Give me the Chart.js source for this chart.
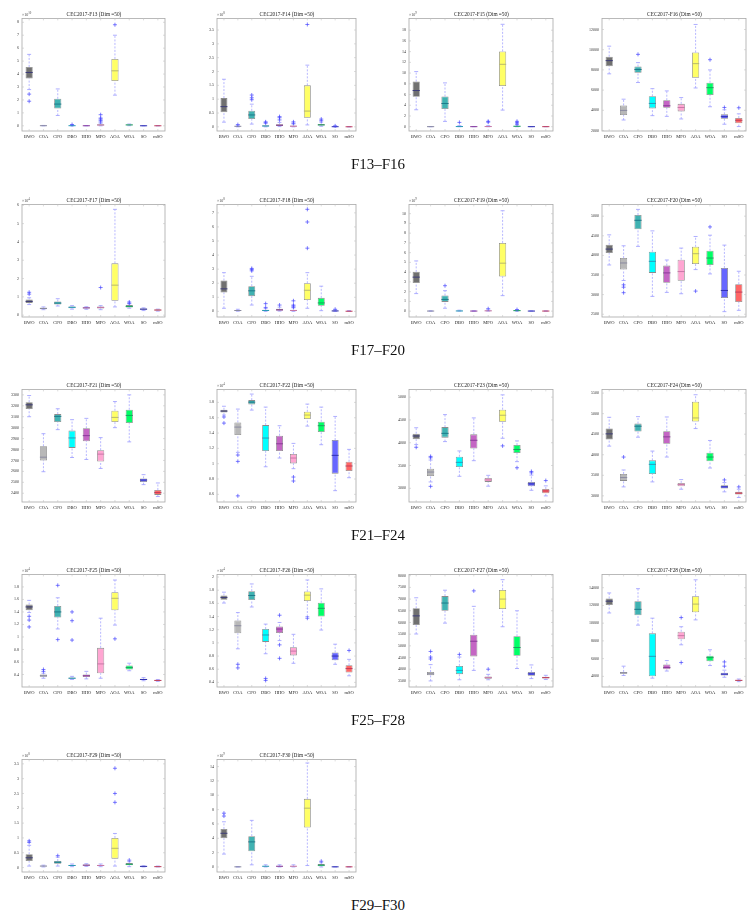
<!DOCTYPE html>
<html>
<head>
<meta charset="utf-8">
<script src="https://cdn.jsdelivr.net/npm/chart.js@4.4.1/dist/chart.umd.min.js"></script>
<style>
  body { margin: 0; background: #fff; width: 755px; height: 917px; position: relative; overflow: hidden; font-family: 'Liberation Serif', serif; }
  canvas { position: absolute; }
  .ttl { position: absolute; font-size: 5.3px; line-height: 6px; color: #222; white-space: nowrap; transform: translateX(-50%); }
  .exp { position: absolute; font-size: 4px; line-height: 5px; color: #444; white-space: nowrap; }
  .exp sup { font-size: 3px; }
  .cap { position: absolute; font-size: 15px; transform: translate(-50%, -50%); white-space: nowrap; color: #111; }
</style>
</head>
<body>
<script>
// algorithms on the x axis
const algorithms = ['BWO', 'COA', 'CPO', 'DBO', 'HHO', 'MFO', 'AOA', 'WOA', 'SO', 'mSO'];

// box stats per algorithm: [lower whisker, q1, median, q3, upper whisker]; outliers separately
const f13Box = [[2.8,3.65,4.12,4.55,5.52],[0,0.005,0.01,0.02,0.03],[0.8,1.33,1.68,2.09,2.85],[0,0.005,0.01,0.03,0.06],[0,0.003,0.005,0.01,0.02],[0,0.03,0.06,0.12,0.2],[2.37,3.46,4.25,5.17,7.0],[0.01,0.05,0.07,0.1,0.14],[0,0.002,0.004,0.008,0.015],[0,0.002,0.004,0.008,0.015]];
const f13Out = [[2.45,1.9],[],[],[0.1],[],[0.3,0.42,0.52,0.6,0.86],[7.81],[],[],[]];
const f13Ticks = [0,1,2,3,4,5,6,7,8];

const f14Box = [[0.17,0.53,0.73,1.04,1.72],[0,0.01,0.02,0.03,0.06],[0.1,0.28,0.43,0.58,0.82],[0,0.01,0.03,0.06,0.12],[0.01,0.03,0.06,0.09,0.16],[0,0.01,0.02,0.05,0.1],[0.07,0.33,0.57,1.5,2.23],[0.02,0.05,0.07,0.1,0.17],[0,0.003,0.005,0.01,0.02],[0,0.002,0.003,0.005,0.008]];
const f14Out = [[],[0.08],[0.98,1.05,1.15],[0.15,0.18],[0.25,0.33,0.37],[0.13,0.18],[3.7],[0.22,0.28],[0.035],[]];
const f14Ticks = [0,0.5,1,1.5,2,2.5,3,3.5];

const f15Box = [[3.16,5.57,6.75,8.42,10.28],[0,0.005,0.01,0.02,0.03],[0.99,3.28,4.33,5.63,8.17],[0,0.01,0.03,0.08,0.2],[0,0.005,0.01,0.02,0.04],[0,0.01,0.03,0.08,0.2],[3.1,7.6,11.64,14.05,19.1],[0,0.03,0.08,0.2,0.35],[0,0.005,0.01,0.02,0.03],[0,0.005,0.01,0.02,0.03]];
const f15Out = [[],[],[],[0.8],[],[0.85,1.0],[],[0.5,0.75,1.0],[],[]];
const f15Ticks = [0,2,4,6,8,10,12,14,16,18];

const f16Box = [[7610,8360,8920,9310,10350],[3040,3530,3990,4480,5100],[6750,7710,8040,8330,8720],[3470,4190,4680,5390,6140],[3400,4250,4450,5000,5920],[3140,3890,4280,4640,5260],[6210,7220,8620,9730,12500],[4350,5520,6240,6730,8000],[2620,3170,3370,3600,4050],[2390,2720,3010,3240,3650]];
const f16Out = [[],[],[9540],[],[],[],[],[9010],[4280],[4250]];
const f16Ticks = [2000,4000,6000,8000,10000,12000];

const f17Box = [[0.58,0.67,0.75,0.86,0.95],[0.3,0.33,0.37,0.41,0.45],[0.5,0.58,0.66,0.75,0.9],[0.33,0.38,0.43,0.48,0.52],[0.32,0.36,0.4,0.42,0.46],[0.3,0.37,0.42,0.47,0.52],[0.45,0.79,1.64,2.83,5.78],[0.38,0.42,0.48,0.55,0.62],[0.25,0.3,0.33,0.36,0.4],[0.22,0.26,0.28,0.31,0.33]];
const f17Out = [[1.15,1.25],[],[],[],[],[1.51],[],[0.65,0.72],[],[]];
const f17Ticks = [0,1,2,3,4,5,6];

const f18Box = [[0.22,1.34,1.6,2.19,2.75],[0.01,0.03,0.06,0.1,0.15],[0.45,1.08,1.46,1.79,2.49],[0,0.03,0.06,0.12,0.2],[0.02,0.06,0.1,0.18,0.3],[0,0.03,0.06,0.12,0.25],[0.22,0.8,1.5,2.0,2.75],[0.05,0.4,0.6,0.96,1.79],[0,0.01,0.03,0.06,0.1],[0,0.005,0.01,0.02,0.06]];
const f18Out = [[],[],[2.88,2.97,3.05],[0.28,0.55],[0.45],[0.3,0.38,0.45,0.75],[4.49,6.35,7.25],[],[0.15],[]];
const f18Ticks = [0,1,2,3,4,5,6,7];

const f19Box = [[1.8,2.88,3.49,4.03,5.15],[0,0.005,0.01,0.02,0.03],[0.3,0.95,1.2,1.6,2.1],[0,0.01,0.02,0.04,0.1],[0,0.005,0.01,0.02,0.03],[0,0.01,0.03,0.06,0.12],[1.59,3.56,4.92,7.0,10.3],[0,0.02,0.05,0.08,0.12],[0,0.005,0.01,0.02,0.03],[0,0.005,0.01,0.02,0.03]];
const f19Out = [[],[],[2.61],[],[],[0.25],[],[0.16],[],[]];
const f19Ticks = [0,1,2,3,4,5,6,7,8,9,10];

const f20Box = [[3756,4060,4161,4271,4524],[3360,3638,3807,3933,4245],[4230,4667,4895,5030,5173],[2955,3554,3849,4094,4625],[3057,3301,3554,3740,3883],[3023,3352,3588,3891,4186],[3638,3782,4043,4220,4482],[3528,3756,3933,4119,4515],[2567,2913,3107,3680,4262],[2600,2812,3065,3267,3596]];
const f20Out = [[],[3250,3190,3050],[],[],[],[],[3090],[4726],[],[]];
const f20Ticks = [2500,3000,3500,4000,4500,5000];

const f21Box = [[3100,3170,3209,3233,3294],[2597,2700,2730,2830,2945],[2982,3052,3103,3124,3173],[2727,2815,2906,2973,3073],[2709,2876,2927,2994,3085],[2627,2691,2758,2794,2909],[3000,3052,3094,3155,3239],[2870,3042,3112,3164,3300],[2479,2503,2521,2536,2570],[2370,2385,2406,2430,2494]];
const f21Out = [[],[],[],[],[],[],[],[],[],[]];
const f21Ticks = [2400,2500,2600,2700,2800,2900,3000,3100,3200,3300];

const f22Box = [[1.635,1.67,1.687,1.704,1.75],[1.148,1.374,1.478,1.539,1.713],[1.7,1.774,1.804,1.83,1.909],[0.96,1.165,1.335,1.504,1.739],[1.074,1.165,1.26,1.365,1.496],[0.935,1.004,1.074,1.126,1.265],[1.491,1.583,1.635,1.678,1.778],[1.248,1.413,1.496,1.548,1.739],[0.648,0.87,1.109,1.309,1.617],[0.817,0.904,0.97,1.026,1.187]];
const f22Out = [[1.61,1.53],[1.113,1.03,0.58],[],[],[],[0.826,0.774],[],[],[],[]];
const f22Ticks = [0.6,0.8,1,1.2,1.4,1.6,1.8];

const f23Box = [[3960,4076,4148,4199,4329],[3140,3270,3357,3430,3620],[4025,4112,4206,4343,4617],[3264,3466,3570,3693,3820],[3606,3874,4054,4184,4545],[3047,3141,3184,3227,3285],[4098,4458,4603,4726,5050],[3585,3776,3852,3949,4040],[2957,3047,3097,3141,3290],[2834,2892,2942,2986,3054]];
const f23Out = [[3900],[3670,3700,3043],[],[],[],[],[3931],[3451],[3340,3370],[3170]];
const f23Ticks = [3000,3500,4000,4500,5000];

const f24Box = [[4210,4371,4508,4637,4911],[3218,3363,3444,3532,3629],[4427,4565,4694,4758,4927],[3339,3532,3766,3863,4089],[3944,4266,4435,4573,4919],[3161,3234,3274,3315,3395],[4637,4806,4895,5290,5460],[3677,3839,3944,4048,4347],[3097,3177,3218,3258,3323],[2960,3032,3065,3097,3161]];
const f24Out = [[],[3944],[],[],[],[],[],[],[3387],[3218]];
const f24Ticks = [3000,3500,4000,4500,5000,5500];

const f25Box = [[1.39,1.428,1.48,1.517,1.585],[0.34,0.365,0.38,0.4,0.42],[1.128,1.312,1.4,1.496,1.626],[0.32,0.33,0.34,0.35,0.37],[0.33,0.36,0.38,0.4,0.45],[0.34,0.42,0.569,0.826,1.3],[1.19,1.428,1.618,1.716,1.91],[0.46,0.48,0.51,0.543,0.58],[0.3,0.31,0.32,0.33,0.35],[0.29,0.3,0.305,0.31,0.32]];
const f25Out = [[1.33,1.27,1.16],[0.45,0.48],[1.825,0.958],[1.4,1.26,0.95],[],[],[0.97],[],[],[]];
const f25Ticks = [0.4,0.6,0.8,1,1.2,1.4,1.6,1.8];

const f26Box = [[1.605,1.655,1.69,1.72,1.77],[0.91,1.145,1.26,1.34,1.46],[1.545,1.65,1.72,1.785,1.895],[0.835,1.015,1.12,1.21,1.285],[1.035,1.15,1.21,1.25,1.31],[0.69,0.81,0.875,0.935,1.13],[1.4,1.635,1.725,1.78,1.955],[1.195,1.4,1.525,1.61,1.82],[0.675,0.735,0.8,0.855,0.98],[0.5,0.55,0.61,0.66,0.75]];
const f26Out = [[],[0.675,0.62],[],[0.46,0.43],[1.42,0.97,0.765],[],[1.375],[],[],[0.885]];
const f26Ticks = [0.4,0.6,0.8,1,1.2,1.4,1.6,1.8,2];

const f27Box = [[5507,5887,6282,6606,7056],[3500,3740,3800,3880,4197],[5972,6500,6831,7127,7380],[3550,3790,3950,4141,4521],[3950,4549,5197,5479,6690],[3550,3590,3640,3690,3780],[5817,6577,7000,7394,7831],[4030,4577,4930,5408,6500],[3600,3720,3800,3880,4183],[3560,3600,3640,3680,3740]];
const f27Out = [[],[4760,4521,4437],[],[4634],[7352],[4000],[],[],[],[]];
const f27Ticks = [3500,4000,4500,5000,5500,6000,6500,7000,7500,8000];

const f28Box = [[11150,12040,12480,12780,13410],[4100,4300,4400,4500,5150],[9780,10890,11560,12480,13890],[3800,4000,6260,8850,10560],[4600,4800,5000,5330,5780],[7560,8190,8590,9040,9600],[10370,11220,12150,13040,14890],[5220,5700,6110,6330,7000],[3900,4100,4250,4400,4700],[3400,3500,3550,3600,3700]];
const f28Out = [[],[],[],[],[],[10630,5560],[],[],[5630,5150],[]];
const f28Ticks = [4000,6000,8000,10000,12000,14000];

const f29Box = [[0.05,0.22,0.33,0.45,0.75],[0.02,0.04,0.05,0.06,0.08],[0.05,0.13,0.18,0.22,0.35],[0.03,0.05,0.07,0.09,0.12],[0.04,0.06,0.08,0.1,0.13],[0.03,0.05,0.07,0.09,0.12],[0.05,0.3,0.65,1.0,1.15],[0.03,0.08,0.11,0.15,0.2],[0.02,0.03,0.04,0.05,0.06],[0.02,0.025,0.03,0.04,0.05]];
const f29Out = [[0.85,0.9],[],[0.4],[],[],[],[2.2,2.5,3.35],[0.25],[],[]];
const f29Ticks = [0,0.5,1,1.5,2,2.5,3,3.5];

const f30Box = [[1.8,4.0,4.7,5.3,6.3],[0,0.01,0.02,0.03,0.05],[0.3,2.2,3.5,4.3,6.5],[0,0.05,0.1,0.15,0.3],[0,0.05,0.1,0.15,0.3],[0,0.05,0.1,0.15,0.3],[0.2,5.5,8.2,9.5,14.5],[0,0.1,0.25,0.4,0.6],[0,0.01,0.02,0.03,0.05],[0,0.01,0.02,0.03,0.05]];
const f30Out = [[7.1,7.5],[],[],[],[],[],[],[0.8],[],[]];
const f30Ticks = [0,2,4,6,8,10,12,14];

const captions = ['F13–F16', 'F17–F20', 'F21–F24', 'F25–F28', 'F29–F30'];

const panels = [
  { fn: 'F13', box: f13Box, out: f13Out, ticks: f13Ticks, min: -0.4, max: 8.3, exp: '10' },
  { fn: 'F14', box: f14Box, out: f14Out, ticks: f14Ticks, min: -0.15, max: 3.92, exp: '8' },
  { fn: 'F15', box: f15Box, out: f15Out, ticks: f15Ticks, min: -0.8, max: 20.2, exp: '9' },
  { fn: 'F16', box: f16Box, out: f16Out, ticks: f16Ticks, min: 1950, max: 13100, exp: null },
  { fn: 'F17', box: f17Box, out: f17Out, ticks: f17Ticks, min: -0.1, max: 6.05, exp: '4' },
  { fn: 'F18', box: f18Box, out: f18Out, ticks: f18Ticks, min: -0.4, max: 7.6, exp: '8' },
  { fn: 'F19', box: f19Box, out: f19Out, ticks: f19Ticks, min: -0.6, max: 10.95, exp: '9' },
  { fn: 'F20', box: f20Box, out: f20Out, ticks: f20Ticks, min: 2430, max: 5300, exp: null },
  { fn: 'F21', box: f21Box, out: f21Out, ticks: f21Ticks, min: 2320, max: 3350, exp: null },
  { fn: 'F22', box: f22Box, out: f22Out, ticks: f22Ticks, min: 0.5, max: 1.97, exp: '4' },
  { fn: 'F23', box: f23Box, out: f23Out, ticks: f23Ticks, min: 2700, max: 5170, exp: null },
  { fn: 'F24', box: f24Box, out: f24Out, ticks: f24Ticks, min: 2850, max: 5590, exp: null },
  { fn: 'F25', box: f25Box, out: f25Out, ticks: f25Ticks, min: 0.2, max: 2.0, exp: '4' },
  { fn: 'F26', box: f26Box, out: f26Out, ticks: f26Ticks, min: 0.33, max: 2.04, exp: '4' },
  { fn: 'F27', box: f27Box, out: f27Out, ticks: f27Ticks, min: 3240, max: 8056, exp: null },
  { fn: 'F28', box: f28Box, out: f28Out, ticks: f28Ticks, min: 2800, max: 15500, exp: null },
  { fn: 'F29', box: f29Box, out: f29Out, ticks: f29Ticks, min: -0.15, max: 3.65, exp: '8' },
  { fn: 'F30', box: f30Box, out: f30Out, ticks: f30Ticks, min: -0.7, max: 15, exp: '9' }
];

const fills = ['#707070', '#b8b8b8', '#40b2b2', '#00ffff', '#c466c4', '#ffa6d2', '#ffff66', '#00ff66', '#6666ff', '#ff6666'];
const medColors = ['#3c3c78', '#8a8aa0', '#1c7a8a', '#2a9ab8', '#8a3a9a', '#c878a8', '#b8b870', '#1aa060', '#3030b0', '#c03c5a'];
const whiskerColor = '#9a9aff';
const serif = 'Liberation Serif';

const cols = [[22, 166], [217, 357], [409, 554], [602, 747]];
const rowTops = [17, 203, 388, 573, 758];
const plotH = 114;

// frame round the plot area with little inward ticks, like the original figure
const frame = {
  id: 'frame',
  afterDraw(chart) {
    const { ctx, chartArea: a, scales } = chart;
    ctx.save();
    ctx.strokeStyle = '#a8a8a8';
    ctx.lineWidth = 0.8;
    ctx.strokeRect(a.left, a.top, a.right - a.left, a.bottom - a.top);
    ctx.strokeStyle = '#c4c4c4';
    ctx.lineWidth = 0.6;
    ctx.beginPath();
    scales.y.ticks.forEach(t => {
      const y = scales.y.getPixelForValue(t.value);
      ctx.moveTo(a.left, y); ctx.lineTo(a.left + 2, y);
      ctx.moveTo(a.right, y); ctx.lineTo(a.right - 2, y);
    });
    algorithms.forEach((_, i) => {
      const x = scales.x.getPixelForValue(i);
      ctx.moveTo(x, a.bottom); ctx.lineTo(x, a.bottom - 2);
      ctx.moveTo(x, a.top); ctx.lineTo(x, a.top + 2);
    });
    ctx.stroke();
    ctx.restore();
  }
};

function halfBox(ctx) {
  const a = ctx.chart.chartArea;
  return a ? (a.right - a.left) / algorithms.length * 0.25 : 3;
}

function addText(cls, html, left, top) {
  const d = document.createElement('div');
  d.className = cls;
  d.innerHTML = html;
  d.style.left = left + 'px';
  d.style.top = top + 'px';
  document.body.appendChild(d);
}

panels.forEach((p, k) => {
  const row = Math.floor(k / 4), col = k % 4;
  const [x0, x1] = cols[col];
  const top = rowTops[row];

  const cv = document.createElement('canvas');
  cv.width = (x1 - x0) + 26;
  cv.height = plotH + 4 + 10;
  cv.style.left = (x0 - 22) + 'px';
  cv.style.top = (top - 4) + 'px';
  document.body.appendChild(cv);

  const whiskers = [], medians = [], outliers = [];
  p.box.forEach((b, i) => {
    const a = algorithms[i];
    whiskers.push({ x: a, y: b[0] }, { x: a, y: b[1] }, { x: a, y: null },
                  { x: a, y: b[3] }, { x: a, y: b[4] }, { x: a, y: null });
    medians.push({ x: a, y: b[2] });
    p.out[i].forEach(v => outliers.push({ x: a, y: v }));
  });

  new Chart(cv, {
    type: 'bar',
    data: {
      labels: algorithms,
      datasets: [
        {
          type: 'line', data: whiskers, order: 3,
          borderColor: whiskerColor, borderWidth: 0.7, borderDash: [2, 1.5], spanGaps: false,
          pointStyle: 'line', pointBorderColor: whiskerColor, pointBorderWidth: 0.8,
          pointRadius: ctx => (ctx.dataIndex % 6 === 0 || ctx.dataIndex % 6 === 4) ? halfBox(ctx) * 0.55 : 0
        },
        {
          data: p.box.map(b => [b[1], b[3]]), order: 2,
          backgroundColor: fills, borderColor: '#8c8c8c', borderWidth: 0.8, borderSkipped: false,
          barPercentage: 0.5, categoryPercentage: 1
        },
        {
          type: 'line', data: medians, order: 1, showLine: false,
          pointStyle: 'line', pointRadius: halfBox, pointBorderColor: medColors, pointBorderWidth: 1
        },
        {
          type: 'line', data: outliers, order: 0, showLine: false,
          pointStyle: 'cross', pointRadius: 2, pointBorderColor: '#4646ff', pointBorderWidth: 0.7
        }
      ]
    },
    options: {
      responsive: false,
      animation: false,
      events: [],
      layout: { padding: { left: 0, right: 4, top: 4, bottom: 0 } },
      plugins: { legend: { display: false }, tooltip: { enabled: false } },
      scales: {
        x: {
          grid: { display: false, drawTicks: false }, border: { display: false },
          ticks: { font: { family: serif, size: 4.5 }, color: '#222', padding: 3, maxRotation: 0, autoSkip: false },
          afterFit: s => { s.height = 10; }
        },
        y: {
          min: p.min, max: p.max,
          grid: { display: false, drawTicks: false }, border: { display: false },
          afterBuildTicks: s => { s.ticks = p.ticks.map(v => ({ value: v })); },
          ticks: { font: { family: serif, size: 4 }, color: '#333', padding: 3, callback: v => String(+Number(v).toFixed(4)) },
          afterFit: s => { s.width = 22; }
        }
      }
    },
    plugins: [frame]
  });

  addText('ttl', 'CEC2017-' + p.fn + ' (Dim =50)', (x0 + x1) / 2, top - 6);
  if (p.exp) addText('exp', '×10<sup>' + p.exp + '</sup>', x0, top - 6);
});

captions.forEach((c, r) => {
  addText('cap', c, 378, rowTops[r] + 147);
});
</script>
</body>
</html>
